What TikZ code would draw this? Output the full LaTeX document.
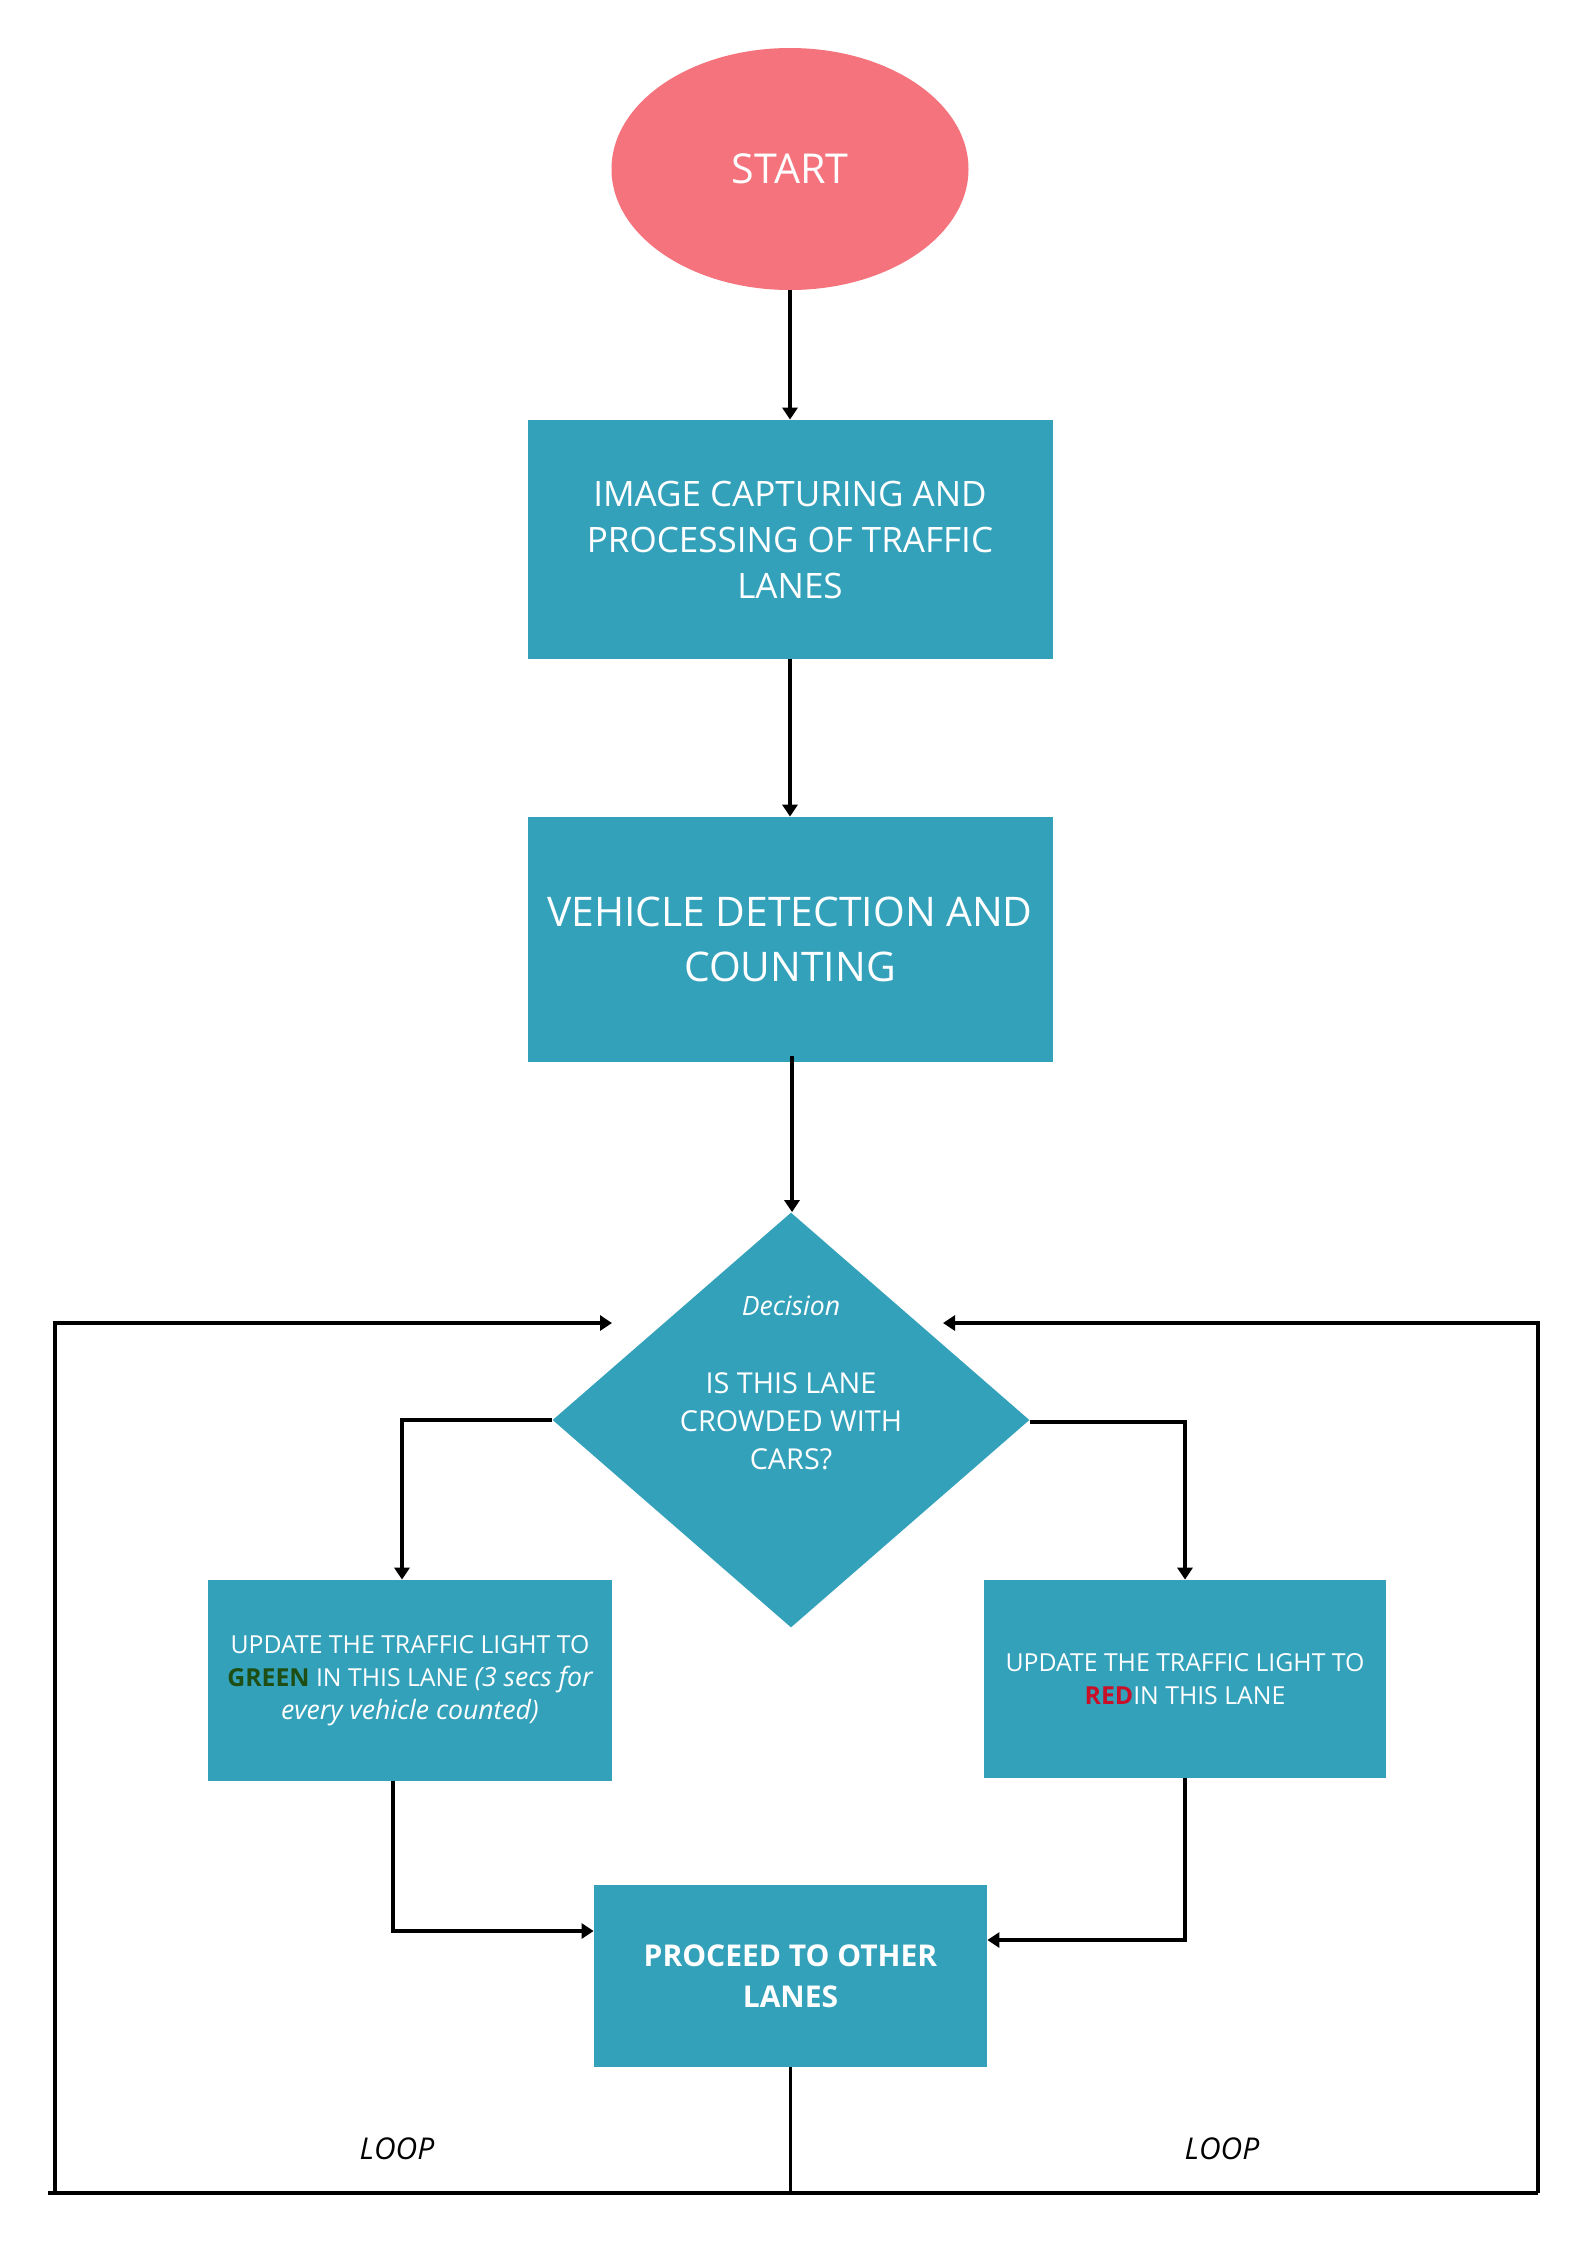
\documentclass[tikz,border=0pt]{standalone}
\usepackage{fontspec}
\setmainfont{Open Sans}
\usetikzlibrary{shapes.geometric,arrows.meta,calc}
\definecolor{teal}{RGB}{52,161,187}
\definecolor{pinkc}{RGB}{244,115,125}
\definecolor{greentxt}{RGB}{31,78,20}
\definecolor{redtxt}{RGB}{200,16,40}
\tikzset{
  box/.style={rectangle,fill=teal,draw=none,text=white,align=center,inner sep=0pt},
  arr/.style={line width=1.6pt,-{Triangle[length=6pt,width=7.5pt]}},
  ln/.style={line width=1.6pt},
  lbl/.style={text=white,align=center,inner sep=0pt},
}
\begin{document}
\begin{tikzpicture}[x=0.5pt,y=-0.5pt]
\useasboundingbox (0,0) rectangle (1587,2245);
\fill[white] (0,0) rectangle (1587,2245);
% nodes
\node[ellipse,fill=pinkc,draw=none,text=white,minimum width=178.5pt,minimum height=121pt,inner sep=0pt,font=\fontsize{20.6}{24}\selectfont] (start) at (790,169) {START};
\node[box,minimum width=262.5pt,minimum height=119.5pt,font=\fontsize{17.5}{23}\selectfont] (img) at (790,539.5) {IMAGE CAPTURING AND\\PROCESSING OF TRAFFIC\\LANES};
\node[box,minimum width=262.5pt,minimum height=122.5pt,font=\fontsize{20.4}{27.5}\selectfont] (veh) at (790,939.5) {VEHICLE DETECTION AND\\COUNTING};
\node[diamond,fill=teal,draw=none,minimum width=238.5pt,minimum height=207.5pt,inner sep=0pt] (dec) at (791,1420) {};
\node[lbl,font=\fontsize{13.3}{15}\selectfont\itshape] (dect) at (791,1306) {Decision};
\node[lbl,font=\fontsize{14.4}{19}\selectfont] (decq) at (791,1421) {IS THIS LANE\\CROWDED WITH\\CARS?};
\node[box,minimum width=202pt,minimum height=100.5pt,font=\fontsize{12.4}{16.5}\selectfont] (green) at (410,1680.5) {UPDATE THE TRAFFIC LIGHT TO\\{\bfseries\color{greentxt}GREEN} IN THIS LANE {\fontsize{13.3}{16.5}\selectfont\itshape(3 secs for}\\{\fontsize{13.3}{16.5}\selectfont\itshape every vehicle counted)}};
\node[box,minimum width=201pt,minimum height=99pt,font=\fontsize{12.4}{16.5}\selectfont] (red) at (1185,1679) {UPDATE THE TRAFFIC LIGHT TO\\{\bfseries\color{redtxt}RED}IN THIS LANE};
\node[box,minimum width=196.5pt,minimum height=91pt,font=\fontsize{15}{20.5}\selectfont\bfseries] (proc) at (790.5,1976) {PROCEED TO OTHER\\LANES};
\node[inner sep=0pt,font=\fontsize{15}{16}\selectfont\itshape] (loopl) at (397,2149) {LOOP};
\node[inner sep=0pt,font=\fontsize{15}{16}\selectfont\itshape] (loopr) at (1222,2149) {LOOP};
\coordinate (bl) at (48,2193);
\coordinate (br) at (1538,2193);
\coordinate (lc) at (55,2193);
% connectors
\draw[arr] (start.south) -- (img.north);
\draw[arr] (img.south) -- (veh.north);
\draw[arr] ($(veh.south)+(2,-6)$) -- ($(dec.north)+(1,0)$);
\draw[arr] (dec.west) -| ($(green.north)+(-8,0)$);
\draw[arr] ($(dec.east)+(0,2)$) -| (red.north);
\draw[arr] ($(green.south)+(-17,0)$) |- ($(proc.west)+(0,-45)$);
\draw[arr] (red.south) |- ($(proc.east)+(0,-36)$);
\draw[ln] (proc.south) -- (proc.south |- bl);
\draw[ln] (bl) -- (br);
\draw[arr] (lc) |- ($(dec.center)+(-179,-97)$);
\draw[arr] (br) |- ($(dec.center)+(152,-97)$);
\end{tikzpicture}
\end{document}
